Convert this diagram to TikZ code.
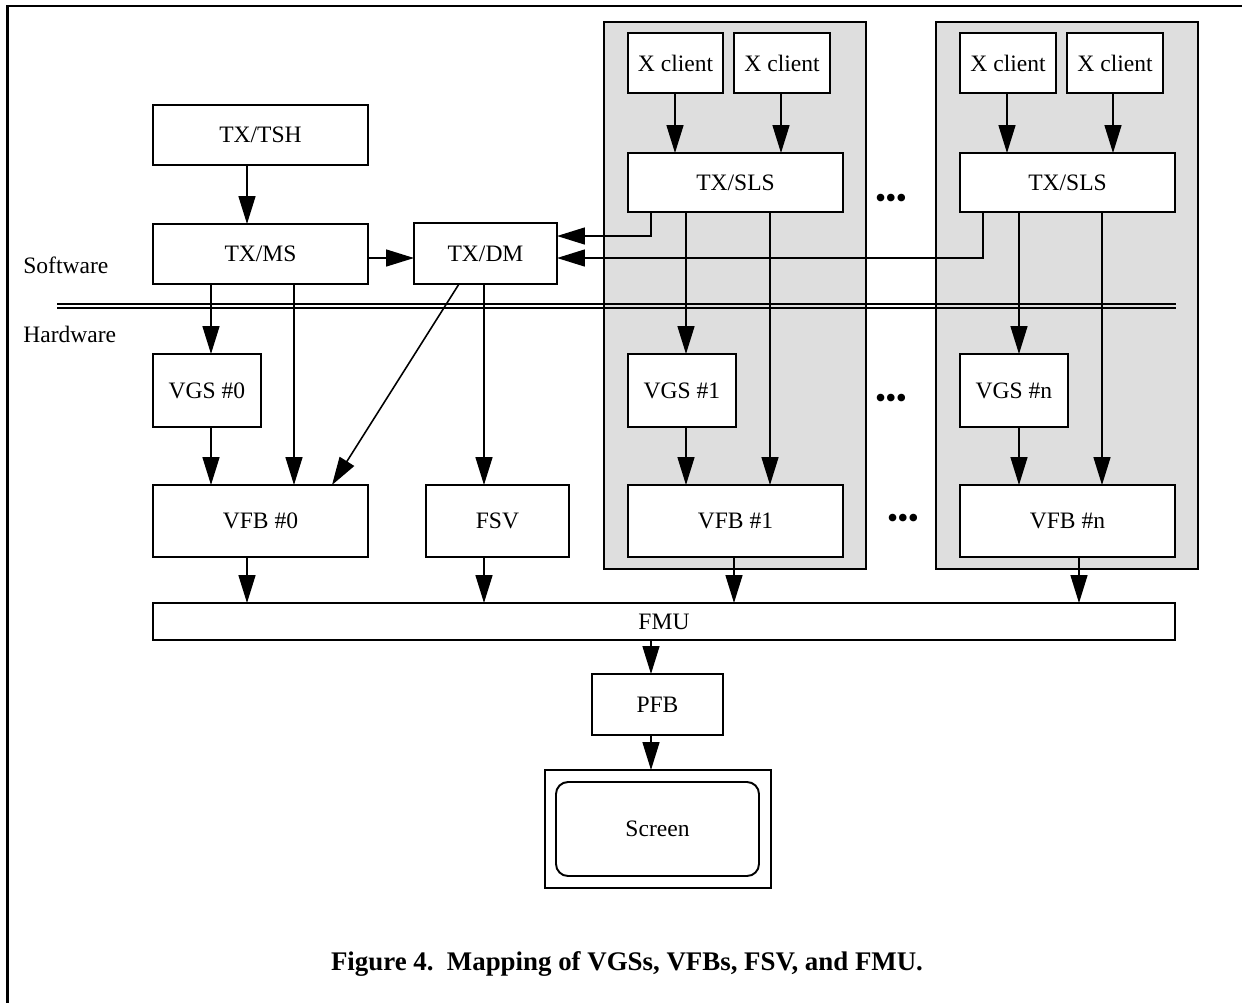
\documentclass[tikz,border=0pt]{standalone}
\usepackage{fontspec}
\setmainfont{Liberation Serif}
\usetikzlibrary{arrows.meta}

\definecolor{panelgray}{HTML}{DEDEDE}
\newcommand\boxfont{\fontsize{13.4}{16}\selectfont}
\newcommand\capfont{\fontsize{15.3}{18}\selectfont\bfseries}
\newcommand\dotfont{\fontsize{18}{20}\selectfont}
\newcommand\threedots{\textbullet\kern-0.4pt\textbullet\kern-0.4pt\textbullet}

% box given by its pixel corners: style, name, x1, y1, x2, y2, text
\newcommand\pxnode[7]{%
  \node[#1, minimum width={(#5-#3)*0.02cm}, minimum height={(#6-#4)*0.02cm}]
    (#2) at ({(#3+#5)/2},{(#4+#6)/2}) {#7};}

\begin{document}
\begin{tikzpicture}[x=0.02cm, y=-0.02cm,
  box/.style={draw, line width=1.1pt, fill=white, inner sep=0pt, outer sep=0pt, font=\boxfont},
  panel/.style={draw, line width=1.1pt, fill=panelgray, inner sep=0pt, outer sep=0pt},
  screenbox/.style={box, rounded corners=0.24cm},
  arr/.style={line width=0.9pt, -{Triangle[length=0.56cm, width=0.34cm]}},
  rule/.style={line width=0.8pt},
  frame/.style={line width=1.3pt},
  side/.style={font=\boxfont, anchor=west, inner sep=0pt},
  dots/.style={font=\dotfont, inner sep=0pt, anchor=base}]

\useasboundingbox (0,0) rectangle (1242,1002);
\fill[white] (0,0) rectangle (1242,1002);

% outer frame, cut by the page edges
\draw[frame] (7.5,1010) -- (7.5,6) -- (1250,6);

% shaded groups of one server each
\pxnode{panel}{grp1}{604}{22}{866}{569}{}
\pxnode{panel}{grp2}{936}{22}{1198}{569}{}

% software / hardware divide
\draw[rule] (57,304) -- (1176,304);
\draw[rule] (57,308) -- (1176,308);
\node[side] (sw) at (23,265) {Software};
\node[side] (hw) at (23,334) {Hardware};

% software boxes
\pxnode{box}{tsh}{153}{105}{368}{165}{TX/TSH}
\pxnode{box}{ms}{153}{224}{368}{284}{TX/MS}
\pxnode{box}{dm}{414}{223}{557}{284}{TX/DM}
\pxnode{box}{xc1a}{628}{33}{723}{93}{X client}
\pxnode{box}{xc1b}{734}{33}{830}{93}{X client}
\pxnode{box}{sls1}{628}{153}{843}{212}{TX/SLS}
\pxnode{box}{xc2a}{960}{33}{1056}{93}{X client}
\pxnode{box}{xc2b}{1067}{33}{1163}{93}{X client}
\pxnode{box}{sls2}{960}{153}{1175}{212}{TX/SLS}

% hardware boxes
\pxnode{box}{vgs0}{153}{354}{261}{427}{VGS \#0}
\pxnode{box}{vfb0}{153}{485}{368}{557}{VFB \#0}
\pxnode{box}{fsv}{426}{485}{569}{557}{FSV}
\pxnode{box}{vgs1}{628}{354}{736}{427}{VGS \#1}
\pxnode{box}{vfb1}{628}{485}{843}{557}{VFB \#1}
\pxnode{box}{vgsn}{960}{354}{1068}{427}{VGS \#n}
\pxnode{box}{vfbn}{960}{485}{1175}{557}{VFB \#n}
\pxnode{box}{fmu}{153}{603}{1175}{640}{FMU}
\pxnode{box}{pfb}{592}{674}{723}{735}{PFB}
\pxnode{box}{scr}{545}{770}{771}{888}{}
\pxnode{screenbox}{scrin}{556}{782}{759}{876}{Screen}

% ellipses between the groups
\node[dots] (dotsA) at (891,208) {\threedots};
\node[dots] (dotsB) at (891,408) {\threedots};
\node[dots] (dotsC) at (903,528) {\threedots};

% columns and rows the connectors run along
\foreach \c in {211,247,294,332,459,484,651,675,686,734,770,781,983,1007,1019,1079,1102,1113}
  \coordinate (c\c) at (\c,0);
\foreach \r in {236,258}
  \coordinate (r\r) at (0,\r);

% connectors
\draw[arr] (tsh.south -| c247) -- (ms.north -| c247);
\draw[arr] (ms.east |- r258) -- (dm.west |- r258);
\draw[arr] (ms.south -| c211) -- (vgs0.north -| c211);
\draw[arr] (ms.south -| c294) -- (vfb0.north -| c294);
\draw[arr] (dm.south -| c459) -- (vfb0.north -| c332);
\draw[arr] (dm.south -| c484) -- (fsv.north -| c484);
\draw[arr] (vgs0.south -| c211) -- (vfb0.north -| c211);
\draw[arr] (vfb0.south -| c247) -- (fmu.north -| c247);
\draw[arr] (fsv.south -| c484) -- (fmu.north -| c484);

\draw[arr] (xc1a.south -| c675) -- (sls1.north -| c675);
\draw[arr] (xc1b.south -| c781) -- (sls1.north -| c781);
\draw[arr] (sls1.south -| c651) |- (dm.east |- r236);
\draw[arr] (sls1.south -| c686) -- (vgs1.north -| c686);
\draw[arr] (sls1.south -| c770) -- (vfb1.north -| c770);
\draw[arr] (vgs1.south -| c686) -- (vfb1.north -| c686);
\draw[arr] (vfb1.south -| c734) -- (fmu.north -| c734);

\draw[arr] (xc2a.south -| c1007) -- (sls2.north -| c1007);
\draw[arr] (xc2b.south -| c1113) -- (sls2.north -| c1113);
\draw[arr] (sls2.south -| c983) |- (dm.east |- r258);
\draw[arr] (sls2.south -| c1019) -- (vgsn.north -| c1019);
\draw[arr] (sls2.south -| c1102) -- (vfbn.north -| c1102);
\draw[arr] (vgsn.south -| c1019) -- (vfbn.north -| c1019);
\draw[arr] (vfbn.south -| c1079) -- (fmu.north -| c1079);

\draw[arr] (fmu.south -| c651) -- (pfb.north -| c651);
\draw[arr] (pfb.south -| c651) -- (scr.north -| c651);

% caption
\node[font=\capfont, inner sep=0pt] (caption) at (627,964)
  {Figure 4.\ \ Mapping of VGSs, VFBs, FSV, and FMU.};
\end{tikzpicture}
\end{document}
